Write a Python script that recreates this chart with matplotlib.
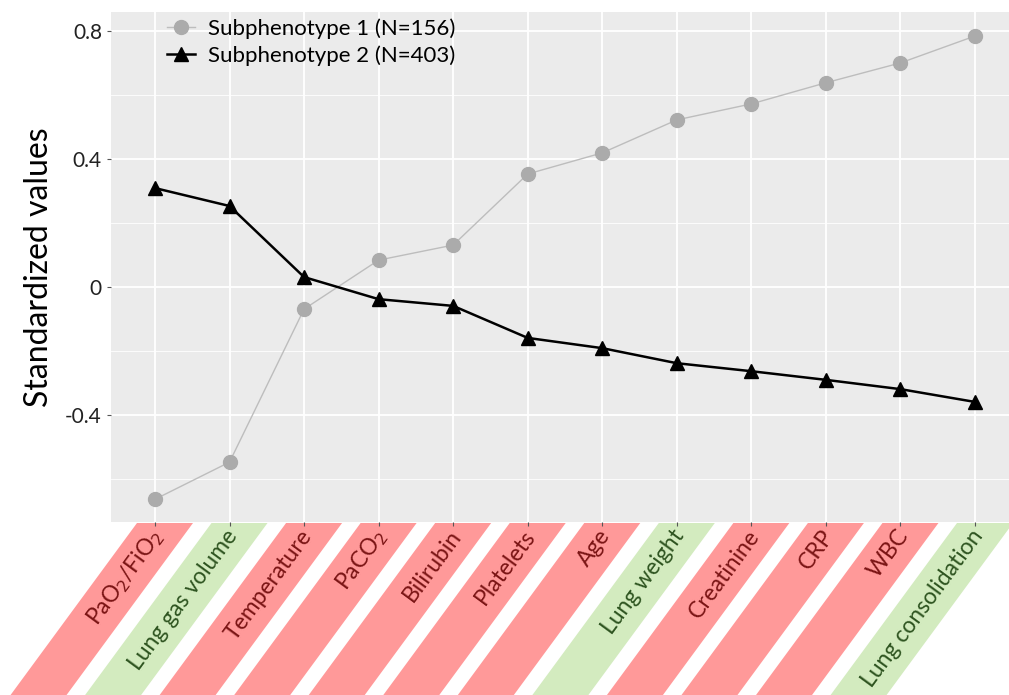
import numpy as np
import matplotlib.pyplot as plt
from matplotlib.patches import Polygon

plt.rcParams['font.family'] = ['Lato', 'DejaVu Sans']

categories = ['PaO$_2$/FiO$_2$', 'Lung gas volume', 'Temperature', 'PaCO$_2$', 'Bilirubin',
              'Platelets', 'Age', 'Lung weight', 'Creatinine', 'CRP', 'WBC', 'Lung consolidation']
groups = ['clin', 'lung', 'clin', 'clin', 'clin', 'clin', 'clin', 'lung', 'clin', 'clin', 'clin', 'lung']
sub1 = [-0.663, -0.547, -0.069, 0.084, 0.131, 0.353, 0.419, 0.522, 0.572, 0.638, 0.700, 0.784]
sub2 = [0.309, 0.253, 0.031, -0.038, -0.059, -0.159, -0.191, -0.238, -0.263, -0.290, -0.319, -0.359]
yticks = [-0.4, 0, 0.4, 0.8]
ytick_labels = ['-0.4', '0', '0.4', '0.8']

band_colors = {'clin': '#FF9999', 'lung': '#D3EBBF'}
text_colors = {'clin': '#7A1414', 'lung': '#2E5420'}

W, H = 1009, 695
fig = plt.figure(figsize=(W / 100, H / 100), dpi=100)
ax = fig.add_axes([111 / W, (H - 522) / H, (W - 111) / W, (522 - 12) / H])
ax.set_facecolor('#EBEBEB')
for s in ax.spines.values():
    s.set_visible(False)

x = np.arange(len(categories))
ax.plot(x, sub1, color='#BDBDBD', lw=1.0, marker='o', ms=10, mfc='#ABABAB', mec='#ABABAB',
        label='Subphenotype 1 (N=156)', zorder=3)
ax.plot(x, sub2, color='black', lw=1.8, marker='^', ms=10, mfc='black', mec='black',
        label='Subphenotype 2 (N=403)', zorder=4)

ax.set_xlim(-0.59, 11.456)
ax.set_ylim(-0.734, 0.859)
ax.set_yticks(yticks)
ax.set_yticklabels(ytick_labels)
ax.set_yticks([-0.6, -0.2, 0.2, 0.6], minor=True)
ax.set_xticks(x)
ax.set_xticklabels([])
ax.grid(True, which='major', color='white', lw=1.3)
ax.grid(True, which='minor', axis='y', color='white', lw=0.6)
ax.set_axisbelow(True)
ax.tick_params(axis='both', which='major', length=3, color='#555555', labelsize=15, colors='#222222')
ax.tick_params(axis='y', which='minor', length=0)
ax.set_ylabel('Standardized values', fontsize=23, labelpad=8)

leg = ax.legend(loc='upper left', bbox_to_anchor=(0.052, 1.005), frameon=False, fontsize=16,
                handlelength=1.3, labelspacing=0.3, handletextpad=0.55, borderaxespad=0)

# slanted category bands below the panel, positioned from the axis scale
over = fig.add_axes([0, 0, 1, 1], zorder=-1)
over.set_xlim(0, W)
over.set_ylim(H, 0)
over.axis('off')
fig.canvas.draw()
slope = 0.735
y_top = 523
for i, (lab, g) in enumerate(zip(categories, groups)):
    xp = ax.transData.transform((i, 0))[0]
    dy = H + 20 - y_top
    pts = [(xp - 18, y_top), (xp + 38, y_top),
           (xp + 38 - slope * dy, y_top + dy), (xp - 18 - slope * dy, y_top + dy)]
    over.add_patch(Polygon(pts, closed=True, facecolor=band_colors[g], edgecolor='none'))
    ty = y_top + 9
    tx = xp + 10 - slope * 9
    over.text(tx, ty, lab, rotation=53.7, rotation_mode='anchor', ha='right', va='center',
              fontsize=16.5, color=text_colors[g])

fig.savefig('out.png', dpi=100)
